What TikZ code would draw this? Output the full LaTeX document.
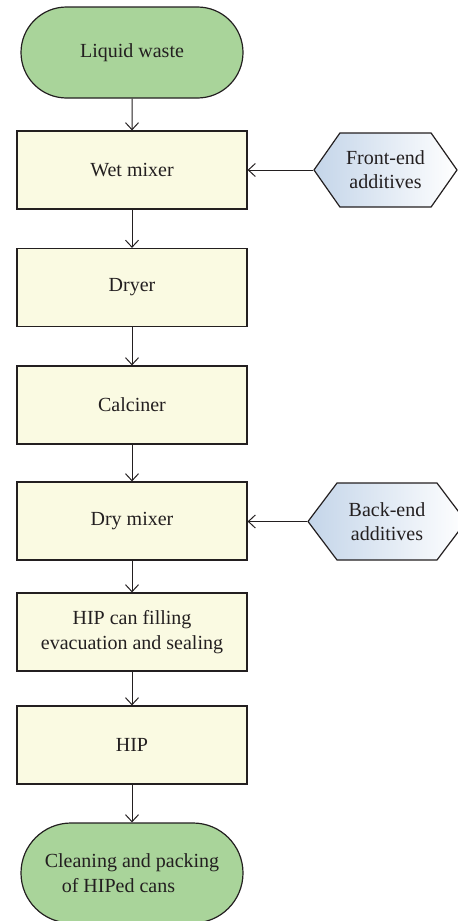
\documentclass[tikz,border=0pt]{standalone}
\usepackage{fontspec}
\setmainfont{Liberation Serif}
\usetikzlibrary{shapes.misc,shapes.symbols,arrows.meta}

\definecolor{termgreen}{RGB}{169,212,154}
\definecolor{boxyellow}{RGB}{250,250,226}
\definecolor{addblue}{RGB}{196,213,233}
\definecolor{edgegray}{RGB}{35,31,32}

\tikzset{
  txt/.style={font=\fontsize{10}{12.5}\selectfont,text=edgegray},
  terminal/.style={txt,rounded rectangle,draw=edgegray,line width=0.6pt,fill=termgreen,
    minimum width=115pt,inner sep=2pt,align=center},
  procbox/.style={txt,rectangle,draw=edgegray,line width=0.6pt,fill=boxyellow,
    minimum width=115pt,minimum height=39pt,inner sep=2pt,align=center},
  addbox/.style={txt,signal,signal to=west and east,draw=edgegray,line width=0.6pt,
    left color=addblue,middle color=addblue!75!white,right color=white,
    inner sep=1pt,align=center,font=\fontsize{10}{12}\selectfont},
  flow/.style={draw=edgegray,line width=0.5pt,-{Straight Barb[length=3.5pt,width=6.5pt]}}
}

\begin{document}
\begin{tikzpicture}[x=0.5pt,y=-0.5pt]
  \useasboundingbox (0,0) rectangle (458,921);

  \node[terminal,minimum height=45.5pt] (waste) at (132,52.5) {Liquid waste};
  \node[procbox] (wetmix) at (132,170) {Wet mixer};
  \node[procbox] (dryer) at (132,287.5) {Dryer};
  \node[procbox] (calciner) at (132,405) {Calciner};
  \node[procbox] (drymix) at (132,521) {Dry mixer};
  \node[procbox] (canfill) at (132,632) {HIP can filling\\evacuation and sealing};
  \node[procbox] (hip) at (132,745) {HIP};
  \node[terminal,minimum height=50pt,align=left] (packing) at (132,873)
    {Cleaning and packing\\\hspace*{8.5pt}of HIPed cans};

  \node[addbox,signal pointer angle=110,minimum width=71.5pt,minimum height=37pt]
    (frontadd) at (385.5,170) {Front-end\\additives};
  \node[addbox,signal pointer angle=106,minimum width=79pt,minimum height=38.5pt]
    (backadd) at (387,521.5) {Back-end\\additives};

  \foreach \from/\to in {waste/wetmix,wetmix/dryer,dryer/calciner,calciner/drymix,
      drymix/canfill,canfill/hip,hip/packing}
    \draw[flow] (\from) -- (\to);
  \draw[flow] (frontadd.west) -- (frontadd.west -| wetmix.east);
  \draw[flow] (backadd.west) -- (backadd.west -| drymix.east);
\end{tikzpicture}
\end{document}
